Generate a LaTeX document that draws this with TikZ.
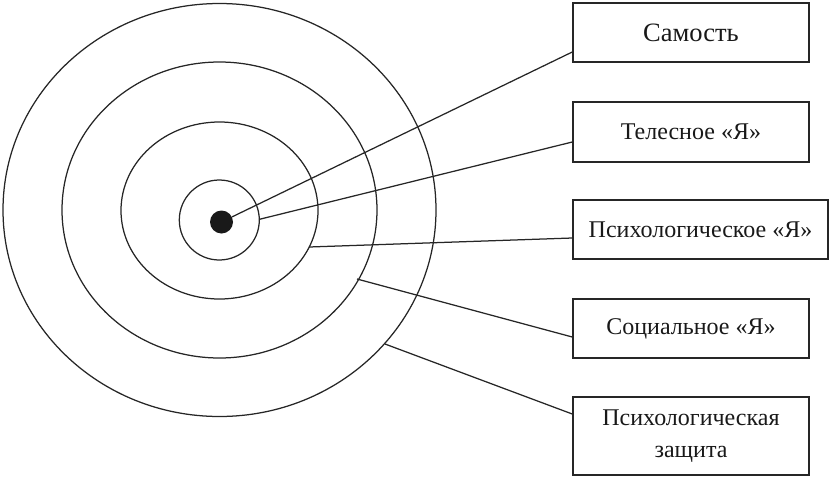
\documentclass[tikz,border=0pt]{standalone}
\usepackage{fontspec}
\setmainfont{Liberation Serif}
\begin{document}
\begin{tikzpicture}[x=1pt,y=-1pt,
  ring/.style={draw=black!85,line width=1.25pt},
  link/.style={draw=black!85,line width=1.25pt},
  labelbox/.style={draw=black!85,line width=1.5pt,minimum width=236pt,minimum height=59pt,inner sep=0pt,
    font=\fontsize{24}{32}\selectfont,text=black!90,align=center}]
\useasboundingbox (0,0) rectangle (830,477);
% rings
\draw[ring] (219.5,210) ellipse [x radius=216.5, y radius=206.5];
\draw[ring] (219.5,210) ellipse [x radius=157.5, y radius=148];
\draw[ring] (219.5,210.5) ellipse [x radius=98.5, y radius=88.5];
\draw[ring] (219.3,220) circle [radius=40];
\node[circle,fill=black!90,inner sep=0pt,minimum size=23pt] (dot) at (221.5,222) {};
% start points on rings
\coordinate (s2) at (259.5,219.3);
\coordinate (s3) at (309,247);
\coordinate (s4) at (357,279);
\coordinate (s5) at (385,344);
% boxes
\node[labelbox,font=\fontsize{26.5}{30}\selectfont] (samost) at (691,32.5) {Самость};
\node[labelbox,minimum height=60pt] (teles) at (691,132) {Телесное «Я»};
\node[labelbox,minimum width=255pt] (psych) at (700.5,229.5) {Психологическое «Я»};
\node[labelbox] (social) at (691,328.5) {Социальное «Я»};
\node[labelbox,minimum height=78pt,text depth=4pt] (zash) at (691,436) {Психологическая\\защита};
% connectors
\draw[link] (dot) -- ([yshift=-19.5pt]samost.west);
\draw[link] (s2) -- ([yshift=-10pt]teles.west);
\draw[link] (s3) -- ([yshift=-8.5pt]psych.west);
\draw[link] (s4) -- ([yshift=-8.5pt]social.west);
\draw[link] (s5) -- ([yshift=22pt]zash.west);
\end{tikzpicture}
\end{document}
